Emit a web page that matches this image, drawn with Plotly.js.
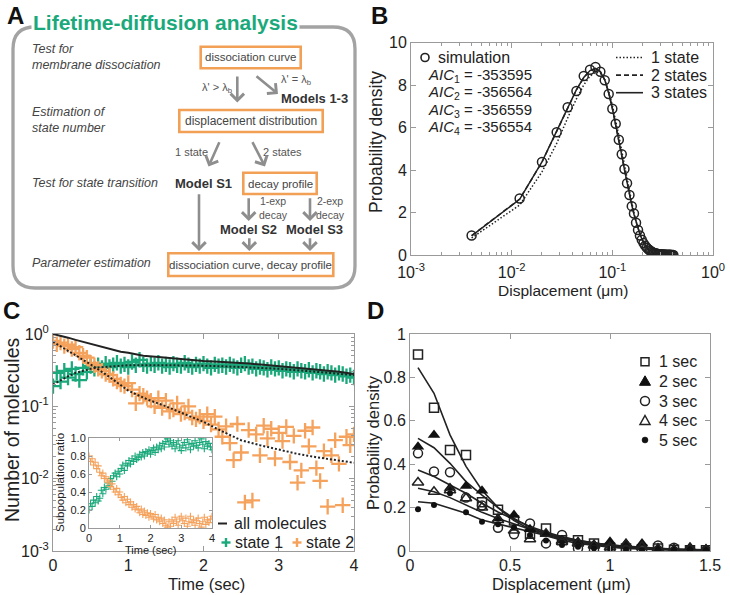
<!DOCTYPE html>
<html><head><meta charset="utf-8">
<script src="https://cdn.plot.ly/plotly-3.0.1.min.js"></script>
<style>html,body{margin:0;padding:0;background:#fff}#plot{width:730px;height:595px}</style>
</head><body><div id="plot"></div>
<script>
// ================= Panel B data =================
const dispB = [0.004,0.012,0.020,0.028,0.036,0.044,0.052,0.060,0.068,0.076,0.084,0.092,0.100,0.108,0.116,0.124,0.132,0.140,0.148,0.156,0.164,0.172,0.180,0.188,0.196,0.204,0.212,0.220,0.228,0.236,0.244,0.252,0.260,0.268,0.276,0.284,0.292,0.300,0.308,0.316,0.324,0.332,0.340,0.348,0.356,0.364,0.372,0.380,0.388,0.396,0.404];
const simB = [0.92,2.66,4.38,5.78,6.95,7.72,8.42,8.72,8.85,8.62,8.22,7.58,6.88,6.18,5.42,4.74,4.05,3.38,2.82,2.30,1.95,1.52,1.18,0.92,0.72,0.56,0.44,0.34,0.27,0.21,0.17,0.13,0.10,0.08,0.065,0.05,0.04,0.035,0.03,0.025,0.02,0.018,0.015,0.012,0.01,0.008,0.007,0.006,0.005,0.004,0.003];
const fit1B = [0.80,2.35,3.91,5.25,6.45,7.35,8.00,8.42,8.60,8.55,8.25,7.70,7.05,6.35,5.62,4.90,4.20,3.55,2.95,2.42,1.96,1.57,1.24,0.96,0.73,0.55,0.41,0.30,0.22,0.16,0.11,0.08,0.055,0.04,0.027,0.018,0.012,0.008,0.005,0.003,0.002,0.001,0.001,0.001,0.001,0.001,0.001,0.001,0.001,0.001,0.001];
const fit2B = [0.91,2.63,4.37,5.81,6.94,7.77,8.35,8.67,8.78,8.63,8.25,7.63,6.91,6.15,5.39,4.69,4.02,3.40,2.85,2.36,1.93,1.56,1.25,0.98,0.77,0.60,0.46,0.36,0.28,0.22,0.17,0.13,0.10,0.08,0.065,0.05,0.04,0.032,0.026,0.021,0.017,0.014,0.011,0.009,0.007,0.006,0.005,0.004,0.003,0.003,0.002];
const fit3B = [0.90,2.62,4.38,5.82,6.95,7.78,8.35,8.68,8.78,8.62,8.24,7.62,6.90,6.15,5.40,4.70,4.02,3.40,2.84,2.35,1.92,1.56,1.25,0.98,0.77,0.60,0.46,0.36,0.28,0.22,0.17,0.13,0.10,0.08,0.065,0.05,0.04,0.032,0.026,0.021,0.017,0.014,0.011,0.009,0.007,0.006,0.005,0.004,0.003,0.003,0.002];
const aicValues = ['-353595','-356564','-356559','-356554'];
const bLegendLabels = ['1 state','2 states','3 states'];
const logTickVals = [0.001,0.01,0.1,1];
const logTickText = ['10<sup>-3</sup>','10<sup>-2</sup>','10<sup>-1</sup>','10<sup>0</sup>'];

// ================= Panel C data =================
const timeC = [0,0.05,0.1,0.15,0.2,0.25,0.3,0.35,0.4,0.45,0.5,0.55,0.6,0.65,0.7,0.75,0.8,0.85,0.9,0.95,1,1.05,1.1,1.15,1.2,1.25,1.3,1.35,1.4,1.45,1.5,1.55,1.6,1.65,1.7,1.75,1.8,1.85,1.9,1.95,2,2.05,2.1,2.15,2.2,2.25,2.3,2.35,2.4,2.45,2.5,2.55,2.6,2.65,2.7,2.75,2.8,2.85,2.9,2.95,3,3.05,3.1,3.15,3.2,3.25,3.3,3.35,3.4,3.45,3.5,3.55,3.6,3.65,3.7,3.75,3.8,3.85,3.9,3.95,4];
const state1C = [0.19,0.29,0.22,0.31,0.25,0.33,0.28,0.23,0.34,0.30,0.36,0.33,0.37,0.34,0.39,0.35,0.37,0.40,0.36,0.38,0.35,0.41,0.37,0.44,0.38,0.36,0.39,0.37,0.40,0.36,0.38,0.35,0.39,0.37,0.36,0.40,0.37,0.35,0.38,0.36,0.39,0.36,0.34,0.38,0.36,0.37,0.35,0.38,0.36,0.34,0.37,0.39,0.35,0.36,0.33,0.35,0.34,0.32,0.35,0.33,0.34,0.31,0.33,0.32,0.30,0.33,0.31,0.30,0.32,0.29,0.31,0.30,0.28,0.30,0.29,0.27,0.29,0.28,0.26,0.27,0.25];
const state2C = [0.80,0.72,0.76,0.68,0.71,0.62,0.66,0.55,0.50,0.47,0.40,0.37,0.33,0.31,0.28,0.27,0.24,0.22,0.20,0.19,0.21,0.17,0.11,0.15,0.14,0.13,0.12,0.10,0.13,0.095,0.12,0.085,0.09,0.11,0.078,0.082,0.10,0.07,0.066,0.072,0.062,0.078,0.056,0.072,0.048,0.038,0.053,0.031,0.018,0.057,0.023,0.0047,0.047,0.005,0.041,0.021,0.054,0.036,0.049,0.019,0.043,0.033,0.052,0.017,0.039,0.0088,0.013,0.046,0.028,0.051,0.014,0.0093,0.024,0.0041,0.021,0.034,0.016,0.0043,0.038,0.029,0.041];
const timeAll = [0,0.1,0.2,0.3,0.4,0.5,0.6,0.7,0.8,0.9,1.0,1.1,1.2,1.4,1.6,1.8,2.0,2.2,2.4,2.6,2.8,3.0,3.2,3.4,3.6,3.8,4.0];
const allC = [1.0,0.95,0.89,0.83,0.78,0.72,0.68,0.64,0.60,0.57,0.55,0.52,0.50,0.48,0.46,0.44,0.425,0.415,0.405,0.39,0.375,0.36,0.345,0.33,0.315,0.30,0.28];
const timeFit1 = [0,0.1,0.2,0.3,0.4,0.5,0.6,0.8,1.0,1.5,2.0,2.5,3.0,3.5,4.0];
const fitState1C = [0.20,0.23,0.26,0.29,0.31,0.33,0.345,0.36,0.37,0.37,0.365,0.35,0.33,0.30,0.27];
const timeFit2 = [0,0.25,0.5,0.75,1.0,1.25,1.5,1.75,2.0,2.25,2.5,2.75,3.0,3.25,3.5,3.75,4.0];
const fitState2C = [0.78,0.55,0.38,0.255,0.165,0.125,0.10,0.078,0.061,0.045,0.034,0.029,0.025,0.022,0.0198,0.018,0.0166];
const ratio1 = [0.20,0.27,0.24,0.31,0.28,0.35,0.30,0.33,0.42,0.38,0.45,0.43,0.50,0.47,0.55,0.52,0.58,0.61,0.57,0.63,0.60,0.66,0.70,0.64,0.72,0.69,0.75,0.71,0.77,0.74,0.80,0.76,0.78,0.82,0.79,0.84,0.80,0.85,0.83,0.87,0.82,0.86,0.89,0.84,0.90,0.87,0.92,0.88,0.94,0.90,0.96,0.99,0.93,0.97,0.91,0.95,0.88,0.93,0.97,0.90,0.86,0.92,0.95,0.89,0.98,0.93,0.87,0.94,0.91,0.97,0.92,0.89,0.95,0.99,0.93,0.88,0.96,0.91,0.94,0.90,0.87];
const ratio2 = [0.80,0.74,0.77,0.70,0.73,0.66,0.69,0.62,0.58,0.61,0.55,0.57,0.51,0.53,0.46,0.49,0.43,0.40,0.44,0.37,0.40,0.34,0.31,0.35,0.28,0.32,0.26,0.29,0.23,0.26,0.21,0.24,0.20,0.17,0.21,0.15,0.19,0.14,0.17,0.12,0.16,0.13,0.10,0.15,0.09,0.12,0.07,0.11,0.05,0.09,0.03,0.01,0.07,0.02,0.09,0.05,0.12,0.07,0.03,0.10,0.13,0.08,0.05,0.11,0.02,0.07,0.13,0.06,0.09,0.03,0.08,0.11,0.05,0.01,0.07,0.12,0.04,0.09,0.06,0.10,0.13];
const insetTickVals = [0,0.2,0.4,0.6,0.8,1];
const insetTickText = ['0','0.2','0.4','0.6','0.8','1.0'];
const cLegendLabels = ['all molecules','state 1','state 2'];

// ================= Panel D data =================
const dispD = [0.04,0.12,0.20,0.28,0.36,0.44,0.52,0.60,0.68,0.76,0.84,0.92,1.00,1.08,1.16,1.24,1.32,1.40,1.48];
const sec1 = [0.906,0.66,0.465,0.442,0.225,0.19,0.14,0.08,0.104,0.05,0.05,0.035,0.015,0.012,0.008,0.012,0.006,0.004,0.003];
const sec2 = [0.48,0.535,0.29,0.30,0.278,0.15,0.166,0.10,0.077,0.05,0.043,0.03,0.043,0.035,0.035,0.012,0.009,0.017,0.009];
const sec3 = [0.45,0.366,0.363,0.246,0.21,0.107,0.077,0.127,0.035,0.074,0.012,0.005,0.002,0.006,0.003,0.025,0.015,0.005,0.003];
const sec4 = [0.316,0.273,0.28,0.243,0.20,0.143,0.094,0.054,0.08,0.043,0.035,0.025,0.017,0.03,0.02,0.01,0.005,0.012,0.005];
const sec5 = [0.192,0.212,0.266,0.178,0.135,0.123,0.108,0.074,0.048,0.028,0.02,0.012,0.009,0.006,0.002,0.005,0.002,0.002,0.002];
const fitSec1 = [0.845,0.727,0.535,0.39,0.28,0.20,0.14,0.10,0.07,0.05,0.035,0.025,0.017,0.012,0.008,0.006,0.004,0.003,0.002];
const fitSec2 = [0.519,0.476,0.404,0.32,0.258,0.20,0.15,0.11,0.08,0.058,0.04,0.03,0.021,0.015,0.011,0.008,0.006,0.004,0.003];
const fitSec3 = [0.373,0.343,0.304,0.266,0.22,0.18,0.145,0.113,0.087,0.066,0.049,0.036,0.026,0.019,0.013,0.009,0.007,0.005,0.003];
const fitSec4 = [0.289,0.273,0.246,0.212,0.178,0.15,0.125,0.10,0.08,0.063,0.048,0.037,0.028,0.021,0.015,0.011,0.008,0.006,0.004];
const fitSec5 = [0.227,0.22,0.197,0.174,0.143,0.125,0.105,0.087,0.071,0.057,0.045,0.035,0.027,0.021,0.016,0.012,0.009,0.007,0.005];
const dLabels = ['1 sec','2 sec','3 sec','4 sec','5 sec'];

// ================= styling =================
const W = 730, H = 595;
const X = p => p / W;
const Y = p => 1 - p / H;
const FONT = 'Liberation Sans, Arial, Helvetica, sans-serif';
const GREEN = '#1ba97b';
const ORANGE = '#f5a25d';
const BOXORANGE = '#f2a055';
const INK = '#222';
const AXC = '#9a9a9a';

function ax(extra) {
  return Object.assign({
    showline: true, linecolor: AXC, linewidth: 1, mirror: 'ticks',
    ticks: 'inside', ticklen: 5, tickcolor: AXC, showgrid: false, zeroline: false,
    tickfont: {size: 16, color: INK, family: FONT}, fixedrange: true
  }, extra);
}

const traces = [
  // Panel B
  {x: dispB, y: fit1B, mode: 'lines', line: {color: INK, width: 1.5, dash: '1.5px,2px'}, xaxis: 'x', yaxis: 'y', name: bLegendLabels[0]},
  {x: dispB, y: fit2B, mode: 'lines', line: {color: INK, width: 1.5, dash: '5px,3px'}, xaxis: 'x', yaxis: 'y', name: bLegendLabels[1]},
  {x: dispB, y: fit3B, mode: 'lines', line: {color: INK, width: 1.5}, xaxis: 'x', yaxis: 'y', name: bLegendLabels[2]},
  {x: dispB, y: simB, mode: 'markers', marker: {symbol: 'circle-open', size: 9, color: INK, line: {width: 1.5, color: INK}}, xaxis: 'x', yaxis: 'y', name: 'simulation'},
  // Panel C
  {x: timeC, y: state1C, mode: 'markers', marker: {symbol: 'cross-thin', size: 11, line: {width: 2.3, color: GREEN}}, xaxis: 'x2', yaxis: 'y2', name: cLegendLabels[1]},
  {x: timeC, y: state2C, mode: 'markers', marker: {symbol: 'cross-thin', size: 11, line: {width: 2.3, color: ORANGE}}, xaxis: 'x2', yaxis: 'y2', name: cLegendLabels[2]},
  {x: timeAll, y: allC, mode: 'lines', line: {color: INK, width: 2}, xaxis: 'x2', yaxis: 'y2', name: cLegendLabels[0]},
  {x: timeFit1, y: fitState1C, mode: 'lines', line: {color: INK, width: 2, dash: '2px,2px'}, xaxis: 'x2', yaxis: 'y2', name: 'fit state 1'},
  {x: timeFit2, y: fitState2C, mode: 'lines', line: {color: INK, width: 2, dash: '2px,2px'}, xaxis: 'x2', yaxis: 'y2', name: 'fit state 2'},
  // Inset
  {x: timeC, y: ratio1, mode: 'markers', marker: {symbol: 'cross-thin', size: 5, line: {width: 1.1, color: GREEN}}, xaxis: 'x3', yaxis: 'y3', name: 'ratio 1'},
  {x: timeC, y: ratio2, mode: 'markers', marker: {symbol: 'cross-thin', size: 5, line: {width: 1.1, color: ORANGE}}, xaxis: 'x3', yaxis: 'y3', name: 'ratio 2'},
];
// Panel D
const dSeries = [sec1, sec2, sec3, sec4, sec5];
const dFits = [fitSec1, fitSec2, fitSec3, fitSec4, fitSec5];
const dMarkers = [
  {symbol: 'square-open', size: 9, color: INK, line: {width: 1.5, color: INK}},
  {symbol: 'triangle-up', size: 11, color: '#111', line: {width: 0}},
  {symbol: 'circle-open', size: 9, color: INK, line: {width: 1.5, color: INK}},
  {symbol: 'triangle-up-open', size: 10, color: INK, line: {width: 1.5, color: INK}},
  {symbol: 'circle', size: 6, color: '#111', line: {width: 0}}
];
dFits.forEach((f, i) => traces.push({x: dispD, y: f, mode: 'lines', line: {color: INK, width: 1.6}, xaxis: 'x4', yaxis: 'y4', name: 'fit ' + dLabels[i]}));
dSeries.forEach((s, i) => traces.push({x: dispD, y: s, mode: 'markers', marker: dMarkers[i], xaxis: 'x4', yaxis: 'y4', name: dLabels[i]}));

// ================= annotations & shapes =================
const ann = [];
const shp = [];
function txt(x, y, text, o) {
  ann.push(Object.assign({xref: 'paper', yref: 'paper', x: X(x), y: Y(y), text: text, showarrow: false,
    xanchor: 'left', yanchor: 'middle', font: {family: FONT, size: 16, color: INK}}, o || {}));
}
function arrow(x0, y0, x1, y1) {
  ann.push({xref: 'paper', yref: 'paper', x: X(x1), y: Y(y1), ax: x0 - x1, ay: y0 - y1, text: '',
    showarrow: true, arrowhead: 4, arrowsize: 1, arrowwidth: 2.6, arrowcolor: '#8e8e8e', standoff: 0, startstandoff: 0});
}
function box(x0, y0, x1, y1) {
  shp.push({type: 'rect', xref: 'paper', yref: 'paper', x0: X(x0), x1: X(x1), y0: Y(y1), y1: Y(y0),
    line: {color: BOXORANGE, width: 2.6}, fillcolor: '#fff', layer: 'above'});
}
const TF = s => ({family: FONT, size: s, color: INK});

// Panel letters
[['A', 15, 15], ['B', 379, 15], ['C', 11, 310], ['D', 375, 310]].forEach(p =>
  txt(p[1], p[2], '<b>' + p[0] + '</b>', {xanchor: 'center', font: {family: FONT, size: 24, color: '#111'}}));

// Axis titles
txt(563, 290.5, 'Displacement (μm)', {xanchor: 'center', font: TF(15.5)});
txt(376, 142, 'Probability density', {xanchor: 'center', textangle: -90, font: TF(17.5)});
txt(206, 584, 'Time (sec)', {xanchor: 'center', font: TF(16.5)});
txt(12, 430, 'Number of molecules', {xanchor: 'center', textangle: -90, font: TF(19.5)});
txt(151, 549.5, 'Time (sec)', {xanchor: 'center', font: TF(11)});
txt(60, 483, 'Subpopulation ratio', {xanchor: 'center', textangle: -90, font: TF(11.5)});
txt(561, 584, 'Displacement (μm)', {xanchor: 'center', font: TF(16.5)});
txt(373, 442, 'Probability density', {xanchor: 'center', textangle: -90, font: TF(16.5)});

// Panel A frame
{
  const x0 = X(13), x1 = X(355), yT = Y(27), yB = Y(288), rx = 22 / W, ry = 22 / H;
  shp.push({type: 'path', xref: 'paper', yref: 'paper', layer: 'above',
    path: `M${x0 + rx},${yT} L${x1 - rx},${yT} Q${x1},${yT} ${x1},${yT - ry} L${x1},${yB + ry} Q${x1},${yB} ${x1 - rx},${yB} L${x0 + rx},${yB} Q${x0},${yB} ${x0},${yB + ry} L${x0},${yT - ry} Q${x0},${yT} ${x0 + rx},${yT} Z`,
    line: {color: '#a3a3a3', width: 3.3}});
}
txt(165, 23, '<b>Lifetime-diffusion analysis</b>', {xanchor: 'center', bgcolor: '#fff', borderpad: 1,
  font: {family: FONT, size: 21, color: GREEN}});
const IT = {family: FONT, size: 12.5, color: '#444'};
txt(30, 56.5, '<i>Test for</i><br><i>membrane dissociation</i>', {font: IT, align: 'left'});
txt(30, 120, '<i>Estimation of</i><br><i>state number</i>', {font: IT, align: 'left'});
txt(30, 183, '<i>Test for state transition</i>', {font: IT});
txt(30, 263, '<i>Parameter estimation</i>', {font: IT});

box(200.7, 46.7, 300.7, 68.3);
box(179.3, 110, 322.7, 132);
box(243.3, 172.7, 316.7, 194);
box(168.3, 253.3, 333.3, 276);
const BX = {family: FONT, size: 11.5, color: '#444'};
txt(250.7, 57.5, 'dissociation curve', {xanchor: 'center', font: BX});
txt(251, 121, 'displacement distribution', {xanchor: 'center', font: {family: FONT, size: 12, color: '#444'}});
txt(280, 183.5, 'decay profile', {xanchor: 'center', font: BX});
txt(250.8, 264.7, 'dissociation curve, decay profile', {xanchor: 'center', font: BX});

const BD = {family: FONT, size: 13, color: '#333'};
txt(314.5, 99, '<b>Models 1-3</b>', {xanchor: 'center', font: BD});
txt(203, 183, '<b>Model S1</b>', {xanchor: 'center', font: BD});
txt(248.5, 230, '<b>Model S2</b>', {xanchor: 'center', font: BD});
txt(314.5, 230, '<b>Model S3</b>', {xanchor: 'center', font: BD});

const SM = {family: FONT, size: 11, color: '#555'};
txt(217, 88, "λ' > λ<sub>b</sub>", {xanchor: 'center', font: SM});
txt(295.5, 80, "λ' = λ<sub>b</sub>", {xanchor: 'center', font: SM});
txt(192, 152, '1 state', {xanchor: 'center', font: SM});
txt(282.5, 152, '2 states', {xanchor: 'center', font: SM});
const SM2 = {family: FONT, size: 10.5, color: '#555'};
txt(273.5, 208, '1-exp<br>decay', {xanchor: 'center', font: SM2});
txt(330.5, 208, '2-exp<br>decay', {xanchor: 'center', font: SM2});

arrow(237.3, 75, 237.3, 102.5);
arrow(255, 75, 278, 94);
arrow(220, 140.7, 208.5, 166.5);
arrow(251.7, 140.7, 265, 166.5);
arrow(199, 192.7, 199, 251);
arrow(248.7, 196.7, 248.7, 221);
arrow(310, 196.7, 310, 221);
arrow(249.3, 236.7, 249.3, 251);
arrow(310, 236.7, 310, 251);

// Panel B legends
shp.push({type: 'circle', xref: 'paper', yref: 'paper', x0: X(421), x1: X(429), y0: Y(61.5), y1: Y(53.5), line: {color: INK, width: 1.6}});
txt(436, 57.5, 'simulation', {font: TF(16)});
aicValues.forEach((v, i) => txt(426, 75 + i * 17.6, '<i>AIC</i><sub>' + (i + 1) + '</sub> = ' + v, {font: TF(15)}));
const bDash = ['1.5px,2px', '5px,3px', 'solid'];
bLegendLabels.forEach((l, i) => {
  const yy = 57.5 + i * 17.6;
  shp.push({type: 'line', xref: 'paper', yref: 'paper', x0: X(616), x1: X(643), y0: Y(yy), y1: Y(yy), line: {color: INK, width: 1.6, dash: bDash[i]}});
  txt(649, yy, l, {font: TF(16)});
});

// Panel C legend
shp.push({type: 'line', xref: 'paper', yref: 'paper', x0: X(218), x1: X(227), y0: Y(523.5), y1: Y(523.5), line: {color: INK, width: 2}});
txt(232, 523.5, cLegendLabels[0], {font: TF(16)});
function cross(cx, cy, col) {
  shp.push({type: 'line', xref: 'paper', yref: 'paper', x0: X(cx - 4.5), x1: X(cx + 4.5), y0: Y(cy), y1: Y(cy), line: {color: col, width: 2.4}});
  shp.push({type: 'line', xref: 'paper', yref: 'paper', x0: X(cx), x1: X(cx), y0: Y(cy - 4.5), y1: Y(cy + 4.5), line: {color: col, width: 2.4}});
}
cross(226, 542.5, GREEN);
txt(233, 542, cLegendLabels[1], {font: TF(16)});
cross(297, 542.5, ORANGE);
txt(304, 542, cLegendLabels[2], {font: TF(16)});

// Panel D legend
const dRows = [361.7, 381.3, 401, 420.5, 440];
{
  const cx = 645;
  let y = dRows[0];
  shp.push({type: 'rect', xref: 'paper', yref: 'paper', x0: X(cx - 4), x1: X(cx + 4), y0: Y(y + 4), y1: Y(y - 4), line: {color: INK, width: 1.5}});
  y = dRows[1];
  shp.push({type: 'path', xref: 'paper', yref: 'paper', path: `M${X(cx)},${Y(y - 5.5)} L${X(cx + 5.5)},${Y(y + 4)} L${X(cx - 5.5)},${Y(y + 4)} Z`, fillcolor: '#111', line: {color: '#111', width: 1}});
  y = dRows[2];
  shp.push({type: 'circle', xref: 'paper', yref: 'paper', x0: X(cx - 4.5), x1: X(cx + 4.5), y0: Y(y + 4.5), y1: Y(y - 4.5), line: {color: INK, width: 1.5}});
  y = dRows[3];
  shp.push({type: 'path', xref: 'paper', yref: 'paper', path: `M${X(cx)},${Y(y - 5)} L${X(cx + 5)},${Y(y + 4)} L${X(cx - 5)},${Y(y + 4)} Z`, line: {color: INK, width: 1.5}});
  y = dRows[4];
  shp.push({type: 'circle', xref: 'paper', yref: 'paper', x0: X(cx - 3), x1: X(cx + 3), y0: Y(y + 3), y1: Y(y - 3), fillcolor: '#111', line: {color: '#111', width: 0.5}});
}
dLabels.forEach((l, i) => txt(657, dRows[i], l, {font: TF(16)}));

const layout = {
  width: W, height: H, margin: {l: 0, r: 0, t: 0, b: 0},
  paper_bgcolor: '#fff', plot_bgcolor: '#fff', showlegend: false,
  font: {family: FONT, color: INK},
  xaxis: ax({type: 'log', range: [-3, 0], domain: [X(411), X(713)], anchor: 'y',
    tickmode: 'array', tickvals: logTickVals, ticktext: logTickText, ticklabelstandoff: 3,
    minor: {ticks: 'inside', ticklen: 3, tickcolor: AXC, dtick: 'D1'}}),
  yaxis: ax({range: [0, 10], dtick: 2, domain: [Y(255), Y(42.5)], anchor: 'x'}),
  xaxis2: ax({range: [0, 4], dtick: 1, domain: [X(53), X(354)], anchor: 'y2'}),
  yaxis2: ax({type: 'log', range: [-3, 0], domain: [Y(551), Y(334)], anchor: 'x2',
    tickmode: 'array', tickvals: logTickVals, ticktext: logTickText,
    minor: {ticks: 'inside', ticklen: 3, tickcolor: AXC, dtick: 'D1'}}),
  xaxis3: ax({range: [0, 4], dtick: 1, domain: [X(89), X(212)], anchor: 'y3', ticklen: 3, tickfont: TF(11)}),
  yaxis3: ax({range: [0, 1], domain: [Y(528), Y(438)], anchor: 'x3', ticklen: 3,
    tickmode: 'array', tickvals: insetTickVals, ticktext: insetTickText, tickfont: TF(11)}),
  xaxis4: ax({range: [0, 1.5], dtick: 0.5, domain: [X(410), X(710)], anchor: 'y4'}),
  yaxis4: ax({range: [0, 1], dtick: 0.2, domain: [Y(551), Y(334)], anchor: 'x4'}),
  annotations: ann,
  shapes: shp
};
Plotly.newPlot('plot', traces, layout, {staticPlot: true, displayModeBar: false});
</script>
</body></html>
